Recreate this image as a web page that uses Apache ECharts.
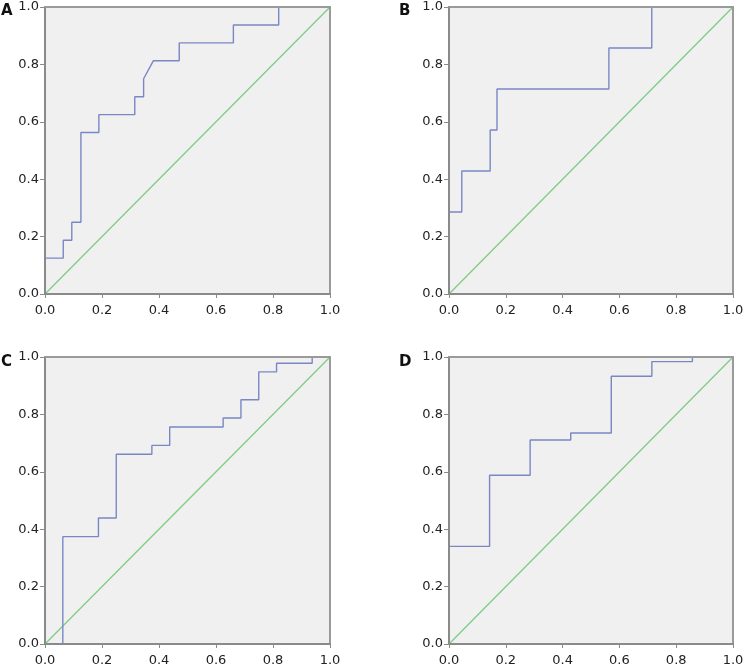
<!DOCTYPE html>
<html>
<head>
<meta charset="utf-8">
<script src="https://cdn.jsdelivr.net/npm/echarts@6/dist/echarts.min.js"></script>
<style>html,body{margin:0;padding:0;background:#fff}#c{width:750px;height:669px}</style>
</head>
<body>
<div id="c"></div>
<script>
const panelLabels = ['A', 'B', 'C', 'D'];
const tickLabels = ['0.0', '0.2', '0.4', '0.6', '0.8', '1.0'];
const rocA = [[0,0],[0,0.125],[0.064,0.125],[0.064,0.1875],[0.094,0.1875],[0.094,0.25],[0.126,0.25],[0.126,0.5625],[0.189,0.5625],[0.189,0.625],[0.315,0.625],[0.315,0.6875],[0.346,0.6875],[0.346,0.75],[0.38,0.8125],[0.471,0.8125],[0.471,0.875],[0.661,0.875],[0.661,0.9375],[0.82,0.9375],[0.82,1],[1,1]];
const rocB = [[0,0],[0,0.2857],[0.045,0.2857],[0.045,0.4286],[0.145,0.4286],[0.145,0.5714],[0.169,0.5714],[0.169,0.7143],[0.563,0.7143],[0.563,0.8571],[0.714,0.8571],[0.714,1],[1,1]];
const rocC = [[0,0],[0.0625,0],[0.0625,0.374],[0.1875,0.374],[0.1875,0.439],[0.25,0.439],[0.25,0.661],[0.375,0.661],[0.375,0.692],[0.4375,0.692],[0.4375,0.756],[0.625,0.756],[0.625,0.7875],[0.6875,0.7875],[0.6875,0.851],[0.75,0.851],[0.75,0.948],[0.8125,0.948],[0.8125,0.978],[0.9375,0.978],[0.9375,1],[1,1]];
const rocD = [[0,0],[0,0.34],[0.1429,0.34],[0.1429,0.588],[0.2857,0.588],[0.2857,0.711],[0.4286,0.711],[0.4286,0.735],[0.5714,0.735],[0.5714,0.933],[0.7143,0.933],[0.7143,0.984],[0.857,0.984],[0.857,1],[1,1]];
const reference = [[0,0],[1,1]];

const rocs = [rocA, rocB, rocC, rocD];
const grids = [
  {left:45, top:7, width:285, height:287},
  {left:449, top:7, width:284, height:287},
  {left:45, top:357, width:285, height:287},
  {left:449, top:357, width:284, height:287}
];
const letterPos = [[1,12],[399,12],[1,363],[399,363]];
const font = 'DejaVu Sans';
const axisColor = '#8a8a8a';
const fmt = v => tickLabels[Math.round(v*5)];

const xAxes = [], yAxes = [];
grids.forEach((g,i) => {
  xAxes.push({
    type:'value', gridIndex:i, min:0, max:1, interval:0.2, z:10,
    axisLine:{show:true, onZero:false, lineStyle:{color:axisColor, width:2}},
    axisTick:{show:true, length:4, lineStyle:{color:axisColor}},
    splitLine:{show:false},
    axisLabel:{margin:10, fontFamily:font, fontSize:13, color:'#222', formatter:fmt}
  });
  yAxes.push({
    type:'value', gridIndex:i, min:0, max:1, interval:0.2, z:10,
    axisLine:{show:true, onZero:false, lineStyle:{color:axisColor, width:2}},
    axisTick:{show:true, length:5, lineStyle:{color:axisColor}},
    splitLine:{show:false},
    axisLabel:{margin:6, fontFamily:font, fontSize:13, color:'#222', formatter:fmt}
  });
});
grids.forEach((g,i) => {
  xAxes.push({
    type:'value', gridIndex:i, min:0, max:1, position:'top', z:10,
    axisLine:{show:true, onZero:false, lineStyle:{color:'#9a9a9a', width:2}},
    axisTick:{show:false}, axisLabel:{show:false}, splitLine:{show:false}
  });
  yAxes.push({
    type:'value', gridIndex:i, min:0, max:1, position:'right', z:10,
    axisLine:{show:true, onZero:false, lineStyle:{color:'#9a9a9a', width:2}},
    axisTick:{show:false}, axisLabel:{show:false}, splitLine:{show:false}
  });
});

const option = {
  animation: false,
  backgroundColor: '#fff',
  grid: grids.map(g => Object.assign({show:true, backgroundColor:'#f0f0f0', borderWidth:0}, g)),
  xAxis: xAxes,
  yAxis: yAxes,
  series: [].concat(...rocs.map((r,i) => [
    {type:'line', xAxisIndex:i, yAxisIndex:i, data:reference, symbol:'none', silent:true, z:2,
      lineStyle:{color:'#7fcc84', width:1.3}},
    {type:'line', xAxisIndex:i, yAxisIndex:i, data:r, symbol:'none', silent:true, z:2,
      lineStyle:{color:'#7a87c4', width:1.4}}
  ])),
  graphic: panelLabels.map((t,i) => ({
    type:'text', left:letterPos[i][0], top:letterPos[i][1]-8,
    style:{text:t, font:'bold 15px ' + font, fill:'#111'}
  }))
};
const chart = echarts.init(document.getElementById('c'), null, {renderer:'canvas'});
chart.setOption(option);
</script>
</body>
</html>
